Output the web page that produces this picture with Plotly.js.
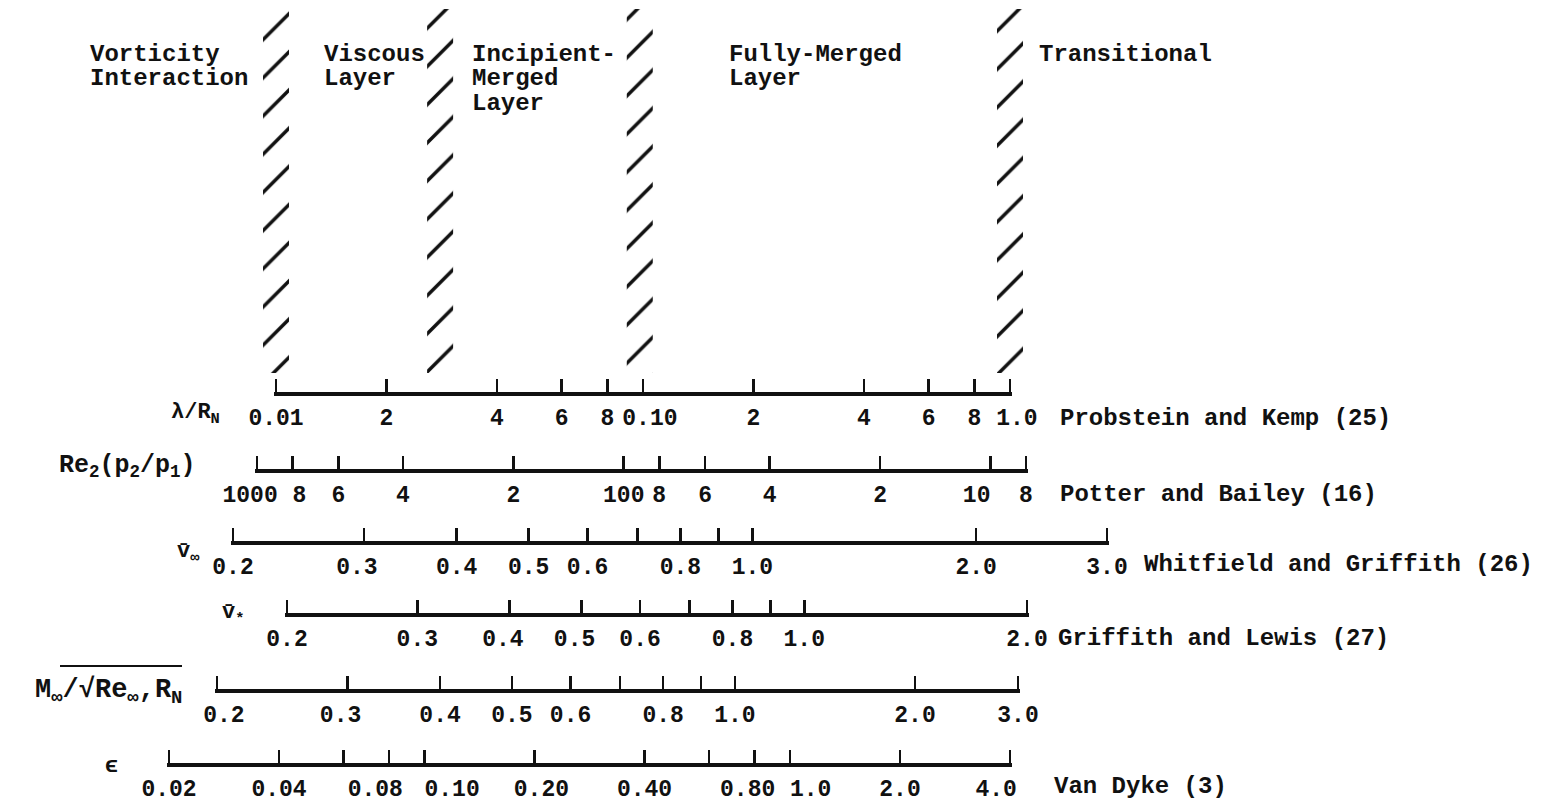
<!DOCTYPE html>
<html><head><meta charset="utf-8">
<script src="https://cdn.plot.ly/plotly-3.0.1.min.js"></script>
<style>html,body{margin:0;padding:0;background:#fff;overflow:hidden}</style>
</head><body><div id="chart" style="width:1549px;height:804px"></div>
<script>
// ---------- data ----------
const lambdaTicks  = [0.01,0.02,0.04,0.06,0.08,0.1,0.2,0.4,0.6,0.8,1.0];
const lambdaLabels = ['0.01','2','4','6','8','0.10','2','4','6','8','1.0'];
const reTicks      = [1000,800,600,400,200,100,80,60,40,20,10,8];
const reLabels     = ['1000','8','6','4','2','100','8','6','4','2','10','8'];
const vInfTicks    = [0.2,0.3,0.4,0.5,0.6,0.7,0.8,0.9,1.0,2.0,3.0];
const vInfLabels   = ['0.2','0.3','0.4','0.5','0.6','','0.8','','1.0','2.0','3.0'];
const vStarTicks   = [0.2,0.3,0.4,0.5,0.6,0.7,0.8,0.9,1.0,2.0];
const vStarLabels  = ['0.2','0.3','0.4','0.5','0.6','','0.8','','1.0','2.0'];
// In the source the M/sqrt(Re) scale is compressed above 1.0: its "2.0" and "3.0"
// marks sit where this log scale reads about 1.75 and 2.41.
const machTicks    = [0.2,0.3,0.4,0.5,0.6,0.7,0.8,0.9,1.0,1.75,2.41];
const machLabels   = ['0.2','0.3','0.4','0.5','0.6','','0.8','','1.0','2.0','3.0'];
const epsTicks     = [0.02,0.04,0.06,0.08,0.1,0.2,0.4,0.6,0.8,1.0,2.0,4.0];
const epsLabels    = ['0.02','0.04','','0.08','0.10','0.20','0.40','','0.80','1.0','2.0','4.0'];
// regime boundaries (hatched bands), in lambda/R_N
const regimeBoundaries = [0.01, 0.028, 0.098, 1.0];
const regimeNames = [['Vorticity','Interaction'],['Viscous','Layer'],['Incipient-','Merged','Layer'],['Fully-Merged','Layer'],['Transitional']];
const sources = ['Probstein and Kemp (25)','Potter and Bailey (16)','Whitfield and Griffith (26)','Griffith and Lewis (27)','','Van Dyke (3)'];

// ---------- layout helpers ----------
const W = 1549, H = 804;
const FONT = 'Liberation Mono, DejaVu Sans Mono, monospace';
const INK = '#111';
const NB = '\u00a0';
const px = v => v / W;
const py = v => 1 - v / H;

// placement of each scale (pixels) and typewriter-style label nudges
// (nudge: +n = shift label right by n half-characters, -n = left)
const rows = [
  {ticks: lambdaTicks, labels: lambdaLabels, x0: 276, x1: 1010, base: 393, nudge:{5:1, 10:1}},
  {ticks: reTicks,     labels: reLabels,     x0: 257, x1: 1026, base: 470, nudge:{0:-1, 1:1, 10:-2}},
  {ticks: vInfTicks,   labels: vInfLabels,   x0: 233, x1: 1107, base: 542, nudge:{1:-1}},
  {ticks: vStarTicks,  labels: vStarLabels,  x0: 287, x1: 1027, base: 614, nudge:{2:-1, 3:-1}},
  {ticks: machTicks,   labels: machLabels,   x0: 217, x1: 1018, base: 690, nudge:{0:1, 1:-1}},
  {ticks: epsTicks,    labels: epsLabels,    x0: 169, x1: 1010, base: 764, nudge:{3:-2, 4:4, 5:1, 8:-1, 9:3, 11:-2}}
];

// hidden linear axis (in decades of lambda/R_N) that carries the hatched bands
const r0 = rows[0], decadePx = (r0.x1 - r0.x0) / 2;
const hx0 = 150, hx1 = 1150;
const layout = {
  width: W, height: H,
  margin: {l:0, r:0, t:0, b:0},
  paper_bgcolor: '#fff', plot_bgcolor: 'rgba(0,0,0,0)',
  showlegend: false,
  font: {family: FONT, color: INK, size: 24, weight: 'bold'},
  yaxis: {domain:[0,1], range:[0,1], visible:false, fixedrange:true},
  xaxis: {domain:[px(hx0), px(hx1)],
          range:[Math.log10(lambdaTicks[0]) - (r0.x0 - hx0) / decadePx,
                 Math.log10(lambdaTicks[lambdaTicks.length-1]) + (hx1 - r0.x1) / decadePx],
          visible:false, anchor:'y'},
  annotations: [], shapes: []
};

const traces = [];

// hatched regime boundaries
const hatchTop = 9, hatchBottom = 373;
traces.push({
  type:'bar', xaxis:'x', yaxis:'y',
  x: regimeBoundaries.map(Math.log10),
  y: regimeBoundaries.map(() => (hatchBottom - hatchTop) / H),
  base: regimeBoundaries.map(() => 1 - hatchBottom / H),
  width: 26 / decadePx,
  marker: {color:'#fff', line:{width:0},
           pattern:{shape:'/', size:27, solidity:0.13, fgcolor:INK, bgcolor:'#fff', fillmode:'replace'}},
  hoverinfo:'skip'
});

function pad(label, n) {
  if (!n) return label;
  const s = NB.repeat(Math.abs(n));
  return n > 0 ? s + label : label + s;
}

rows.forEach((r, i) => {
  const n = i + 2;
  const lo = Math.log10(r.ticks[0]), hi = Math.log10(r.ticks[r.ticks.length-1]);
  const edge = 2 * (hi - lo) / (r.x1 - r.x0);   // ~2 px so end ticks are kept
  const major = [], majorText = [], minor = [];
  r.ticks.forEach((t, k) => {
    if (r.labels[k] === '') minor.push(t);
    else { major.push(t); majorText.push(pad(r.labels[k], r.nudge[k])); }
  });
  layout['xaxis' + n] = {
    type:'log', domain:[px(r.x0 - 2), px(r.x1 + 2)], range:[lo - edge, hi + edge],
    anchor:'free', position: py(r.base), side:'bottom',
    showline:true, linewidth:3.5, linecolor:INK,
    ticks:'inside', ticklen:13, tickwidth:2.6, tickcolor:INK,
    tickmode:'array', tickvals:major, ticktext:majorText, tickangle:0,
    tickfont:{family:FONT, size:23, color:INK, weight:'bold'},
    ticklabelstandoff: 2,
    minor: {tickmode:'array', tickvals:minor, ticks:'inside', ticklen:13, tickwidth:2.6, tickcolor:INK, showgrid:false},
    showgrid:false, zeroline:false, fixedrange:true
  };
  traces.push({type:'scatter', mode:'markers', xaxis:'x'+n, yaxis:'y',
    x:r.ticks, y:r.ticks.map(() => 0.5), marker:{opacity:0, size:1}, hoverinfo:'skip'});
});

function note(text, x, y, opts) {
  layout.annotations.push(Object.assign({
    text, x:px(x), y:py(y), xref:'paper', yref:'paper', showarrow:false,
    xanchor:'left', yanchor:'middle',
    font:{family:FONT, size:24, color:INK, weight:'bold'}
  }, opts || {}));
}

// regime names
const regimePos = [88, 322, 470, 727, 1037];
regimeNames.forEach((lines, k) => {
  lines.forEach((t, j) => note(t, regimePos[k], 55 + j * 24));
});

// source names at right
const srcPos = [[1058,418],[1058,494],[1142,564],[1056,638],null,[1052,786]];
sources.forEach((s, k) => { if (s) note(s, srcPos[k][0], srcPos[k][1]); });

// parameter names at left
const small = {family:FONT, size:22, color:INK, weight:'bold'};
const mid = {family:FONT, size:25, color:INK, weight:'bold'};
const big = {family:FONT, size:27, color:INK, weight:'bold'};
note('λ/R<sub>N</sub>', 222, 414, {xanchor:'right', font:small});
note('Re<sub>2</sub>(p<sub>2</sub>/p<sub>1</sub>)', 198, 466, {xanchor:'right', font:mid});
note('v\u0304<sub>∞</sub>', 202, 553, {xanchor:'right', font:small});
note('v\u0304<sub>*</sub>', 246, 614, {xanchor:'right', font:small});
note('M<sub>∞</sub>/√Re<sub>∞</sub>,R<sub>N</sub>', 184, 692, {xanchor:'right', font:big});
note('ϵ', 111, 766, {xanchor:'center', font:small});
layout.shapes.push({type:'line', xref:'paper', yref:'paper', x0:px(60), x1:px(182), y0:py(666), y1:py(666), line:{color:INK, width:2}});

Plotly.newPlot('chart', traces, layout, {staticPlot:true, displayModeBar:false});
</script></body></html>
